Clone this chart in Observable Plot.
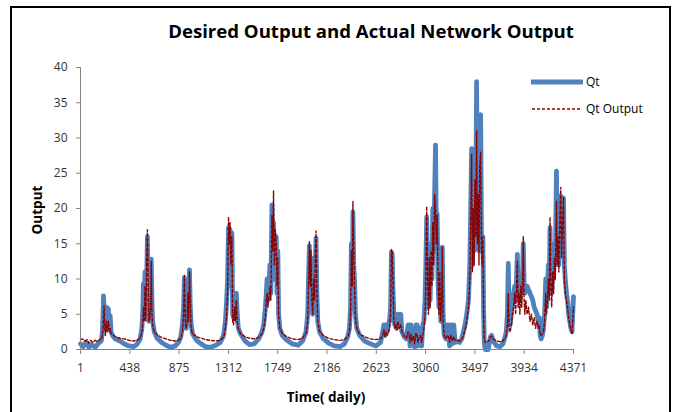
<!DOCTYPE html>
<html>
<head>
<meta charset="utf-8">
<script src="https://cdn.jsdelivr.net/npm/d3@7"></script>
<script src="https://cdn.jsdelivr.net/npm/@observablehq/plot@0.6"></script>
<style>
  html, body { margin: 0; padding: 0; background: #fff; overflow: hidden; }
  #wrap { position: relative; width: 679px; height: 412px; overflow: hidden; font-family: "Open Sans", sans-serif; }
  #frame { position: absolute; left: 10px; top: 6px; width: 661px; height: 430px; border: 2px solid #000; box-sizing: border-box; }
  #chart { position: absolute; left: 0; top: 0; }
  .title { position: absolute; left: 0; width: 742px; top: 18px; text-align: center; font-weight: bold; font-size: 18.6px; color: #000; white-space: nowrap; }
  .ylab { position: absolute; left: 37px; top: 210px; transform: translate(-50%, -50%) rotate(-90deg); font-weight: bold; font-size: 13.5px; white-space: nowrap; }
  .xlab { position: absolute; left: 326px; top: 397px; transform: translate(-50%, -50%); font-weight: bold; font-size: 13.5px; white-space: nowrap; }
  .leg { position: absolute; left: 531px; font-size: 12px; white-space: nowrap; display: flex; align-items: center; }
  .leg span { margin-left: 3px; }
</style>
</head>
<body>
<div id="wrap">
  <div id="chart"></div>
  <div id="frame"></div>
  <div class="title">Desired Output and Actual Network Output</div>
  <div class="ylab">Output</div>
  <div class="xlab">Time( daily)</div>
  <div class="leg" style="top:73px"><svg width="52" height="16"><line x1="1" x2="51" y1="8" y2="8" stroke="#4F81BD" stroke-width="5" stroke-linecap="round"/></svg><span>Qt</span></div>
  <div class="leg" style="top:100px"><svg width="52" height="16"><line x1="1" x2="51" y1="8" y2="8" stroke="#8B0000" stroke-width="1.4" stroke-dasharray="3,2"/></svg><span>Qt Output</span></div>
</div>
<script>
const xTicks = [1, 438, 875, 1312, 1749, 2186, 2623, 3060, 3497, 3934, 4371];
const yTicks = [0, 5, 10, 15, 20, 25, 30, 35, 40];

const qtSeries = [
[1,0.8],[25,0.4],[50,1.0],[75,0.3],[100,0.7],[130,0.3],[160,0.9],[185,1.2],[195,2.5],
[200,4.5],[205,7.6],[212,5],[218,3],[225,4.5],[232,6],[240,3.5],[248,5.8],[256,3],[264,4.8],[272,2.5],[285,2],[310,1.5],[350,1.2],[390,0.8],[430,0.5],[470,0.4],[500,0.7],[530,1.5],
[545,3],[552,5],[559,9.3],[566,6],[573,11],[580,5],[587,9],[594,16],[600,9],[607,4],[615,5],[622,8],[628,12.8],[634,7],[640,4],[655,2.5],[680,1.6],[720,1],[760,0.6],[800,0.3],[840,0.5],[870,1],[890,1.8],
[905,3.5],[915,6],[922,10.2],[930,5],[938,3],[946,5],[953,9],[960,4],[967,11.3],[974,6],[982,3.5],[995,2.2],[1030,1.3],[1070,0.8],[1110,0.4],[1150,0.3],[1200,0.6],[1240,1],[1270,2],
[1285,4],[1295,6.5],[1305,10],[1313,17.3],[1320,12],[1327,17],[1334,9],[1343,16.5],[1350,5],[1358,4.5],[1366,8],[1374,6],[1382,8],[1390,5],[1400,3],[1420,2.2],[1460,1.2],[1500,0.7],[1540,0.8],[1580,1.5],[1610,2.5],
[1625,3.5],[1640,6],[1648,8],[1655,10],[1663,7],[1672,9],[1680,12],[1688,8],[1698,20.5],[1705,12],[1712,18],[1720,10],[1728,14],[1736,16],[1743,8],[1750,14],[1757,5],[1768,3],[1790,2],[1830,1.3],[1880,0.8],[1930,0.6],[1970,1.2],[2000,2.5],
[2015,5],[2022,10],[2030,14.7],[2037,8],[2044,13],[2052,6],[2060,5],[2068,9],[2076,6],[2082,12],[2089,15.8],[2096,8],[2104,4],[2120,2.5],[2150,1.6],[2200,0.9],[2250,0.5],[2300,0.4],[2340,0.8],[2370,1.8],
[2385,3],[2395,6],[2402,15],[2410,8],[2416,19.5],[2423,12],[2430,9.8],[2438,5],[2450,3],[2475,2],[2520,1.2],[2570,0.8],[2620,0.5],[2660,1],[2680,2.5],[2690,3.5],[2700,2],[2710,3.5],[2720,2.5],[2730,3.5],[2740,4],
[2750,6],[2757,13.8],[2764,13.5],[2770,9],[2778,5],[2786,3.5],[2795,4],[2805,3],[2815,5],[2825,3.5],[2840,5],[2850,2.5],[2870,1.8],[2890,1.5],
[2905,3.5],[2915,3.5],[2922,0.5],[2930,3.5],[2940,1],[2955,2.5],[2962,0.3],[2975,3.5],[2985,3.5],[2992,0.5],[3005,2.5],[3015,3],[3025,0.5],[3035,3.5],[3045,4],
[3055,7],[3062,12],[3070,18.8],[3078,8],[3085,6],[3093,12],[3100,7],[3108,15],[3116,10],[3124,20],[3132,14],[3140,22],[3148,29],[3155,16],[3162,19.3],[3170,10],[3178,6],[3186,12],[3194,4],[3202,8],[3208,14.5],[3215,5],[3225,2],[3240,1.5],[3255,3.5],[3265,3.5],[3272,0.5],[3285,3.5],[3298,0.8],[3310,3.5],[3322,1],[3340,1.2],[3360,1],[3380,1.5],[3395,2.5],[3410,3.5],
[3425,5],[3440,7],[3452,12],[3460,20],[3468,28.5],[3475,12],[3482,22],[3490,14],[3497,26],[3505,20],[3512,38],[3519,18],[3526,25],[3533,14],[3540,28],[3548,33.3],[3555,16],[3562,14],[3568,16],[3574,6],[3580,1],[3588,0],[3615,0],[3625,1],[3635,1.8],[3645,2],[3660,1.2],[3690,0.5],[3720,0.4],[3745,0.8],[3765,1.8],
[3775,2.5],[3785,5],[3793,12.2],[3800,4],[3810,3.5],[3820,5],[3830,7],[3840,8],[3850,9],[3858,7],[3866,10],[3873,13.5],[3880,8],[3888,9.5],[3896,7],[3904,10],[3912,8],[3920,11],[3926,15],[3933,9],[3940,8],[3948,9],[3960,9],[3972,8.5],[3985,8],[3998,7.5],[4010,7],[4022,6],[4035,5.5],[4048,5],[4058,4],[4068,4.5],[4076,2],[4084,1.5],[4095,2],[4105,3],
[4115,5],[4125,10],[4132,6],[4140,8],[4148,12],[4156,9],[4163,17.3],[4170,10],[4178,8],[4186,13],[4194,10],[4202,15],[4210,12],[4220,25.3],[4227,14],[4234,18],[4241,12],[4250,20],[4258,21.8],[4265,14],[4272,18],[4282,21.5],[4290,12],[4298,10],[4308,8],[4318,7],[4328,5],[4338,4],[4348,3],[4358,2.5],[4364,5],[4371,7.5]
];

const qtOutputSeries = [
[1,1.4],[20,1.5],[40,1.2],[60,1.4],[75,0.9],[90,1.3],[110,1.0],[130,1.3],[150,1.1],[170,1.4],[190,1.5],[198,2.5],
[203,3.5],[210,6.2],[216,3],[222,2],[230,4],[238,2.5],[248,4],[256,2.5],[264,3],[272,2.3],[285,2.1],[310,1.8],[350,1.6],[390,1.5],[430,1.3],[470,1.2],[500,1.3],[530,1.6],
[545,2.5],[552,3.5],[559,6],[566,4],[573,9],[580,4],[587,12],[594,17],[600,11],[607,4],[615,4.5],[622,6],[628,12.5],[634,5],[640,3.5],[655,2.5],[680,2.1],[720,1.7],[760,1.5],[800,1.3],[840,1.2],[870,1.3],[890,1.6],
[905,2.5],[915,5],[922,10.5],[930,4],[938,3],[946,4],[953,8],[960,4],[967,11],[974,7],[982,3],[995,2.2],[1030,1.8],[1070,1.6],[1110,1.4],[1150,1.3],[1200,1.2],[1240,1.3],[1270,1.8],
[1285,3],[1295,4.5],[1305,8],[1313,18.8],[1320,15],[1327,18],[1334,12],[1343,16],[1350,4],[1358,3.5],[1366,6],[1374,4],[1382,7],[1390,4],[1400,3],[1420,2.2],[1460,1.8],[1500,1.6],[1540,1.5],[1580,1.7],[1610,2.2],
[1625,3],[1640,4.5],[1648,7],[1655,8],[1663,6],[1672,7.5],[1680,9],[1688,7],[1698,19],[1705,14],[1712,22.5],[1720,12],[1728,17],[1736,15],[1743,9],[1750,13],[1757,5],[1768,3],[1790,2.3],[1830,1.8],[1880,1.5],[1930,1.4],[1970,1.6],[2000,2.3],
[2015,4],[2022,9],[2030,15.3],[2037,9],[2044,14],[2052,7],[2060,5],[2068,10],[2076,7],[2082,13],[2089,16.8],[2096,9],[2104,4],[2120,2.6],[2150,2],[2200,1.6],[2250,1.4],[2300,1.3],[2340,1.4],[2370,1.8],
[2385,2.5],[2395,5],[2402,14],[2410,9],[2416,21],[2423,14],[2430,9],[2438,4.5],[2450,3],[2475,2.2],[2520,1.8],[2570,1.5],[2620,1.4],[2660,1.5],[2680,2],[2690,2.8],[2700,1.8],[2710,2.5],[2720,2],[2730,2.5],[2740,3],
[2750,5],[2757,14.2],[2764,13.8],[2770,10],[2778,4.5],[2786,3],[2795,3.5],[2805,2.8],[2815,4],[2825,3],[2840,3.5],[2850,2.5],[2870,1.9],[2890,1.6],
[2905,2.5],[2915,2],[2922,1],[2930,2.2],[2940,1.2],[2955,2],[2962,0.8],[2975,2.3],[2985,2],[2992,1],[3005,1.8],[3015,2],[3025,1],[3035,2],[3045,3],
[3055,5],[3062,9],[3070,20.3],[3078,10],[3085,5],[3093,13],[3100,6],[3108,14],[3116,9],[3124,18],[3132,12],[3140,22],[3148,20],[3155,15],[3162,19],[3170,11],[3178,5],[3186,11],[3194,4],[3202,7],[3208,14.5],[3215,4],[3225,2],[3240,1.5],[3255,2],[3265,1.8],[3272,1],[3285,2],[3298,1.2],[3310,1.8],[3322,1.3],[3340,1.3],[3360,1.2],[3380,1.4],[3395,2],[3410,2.8],
[3425,4],[3440,6],[3452,10],[3460,18],[3468,27.7],[3475,11],[3482,20],[3490,12],[3497,24],[3505,16],[3512,31],[3519,15],[3526,22],[3533,12],[3540,26],[3548,28],[3555,14],[3562,12],[3568,16],[3574,5],[3580,1.5],[3588,1],[3615,1.2],[3625,1.3],[3635,1.8],[3645,1.9],[3660,1.5],[3690,1.2],[3720,1.1],[3745,1.2],[3765,1.6],
[3775,2],[3785,3.5],[3793,8],[3800,3],[3810,2.5],[3820,3.5],[3830,5],[3840,6],[3850,8],[3858,5],[3866,9],[3873,12.5],[3880,6],[3888,8],[3896,5],[3904,9],[3912,6],[3920,10],[3926,16],[3933,7],[3940,5],[3948,7],[3960,5],[3972,6],[3985,4],[3998,5],[4010,3.5],[4022,4.5],[4035,3],[4048,4],[4058,3],[4068,3.5],[4076,2],[4084,2],[4095,2.2],[4105,2.5],
[4115,4],[4125,8],[4132,5],[4140,7],[4148,10],[4156,7],[4163,18.8],[4170,9],[4178,6],[4186,11],[4194,8],[4202,13],[4210,10],[4220,21],[4227,12],[4234,16],[4241,11],[4250,18],[4258,23],[4265,13],[4272,17],[4282,21.5],[4290,10],[4298,8],[4308,7],[4318,6],[4328,4.5],[4338,3.5],[4348,2.8],[4358,2.2],[4364,4],[4371,6]
];

const qtData = qtSeries.map(([day, value]) => ({day, value}));
const outData = qtOutputSeries.map(([day, value]) => ({day, value}));

const chart = Plot.plot({
  width: 679,
  height: 412,
  marginLeft: 80,
  marginRight: 106,
  marginTop: 67,
  marginBottom: 63,
  style: {fontFamily: "Open Sans, sans-serif", fontSize: "12px", color: "#333", background: "transparent", overflow: "visible"},
  x: {domain: [1, 4371]},
  y: {domain: [0, 40]},
  marks: [
    Plot.axisX({ticks: xTicks, tickSize: 5, tickPadding: 9, tickFormat: d => String(d), label: null, stroke: "#868686", fill: "#333"}),
    Plot.axisY({ticks: yTicks, tickSize: 4, tickPadding: 9, tickFormat: d => String(d), label: null, stroke: "#868686", fill: "#333"}),
    Plot.line(qtData, {x: "day", y: "value", stroke: "#4F81BD", strokeWidth: 4.8, strokeLinejoin: "round", strokeLinecap: "round"}),
    Plot.line(outData, {x: "day", y: "value", stroke: "#8B0000", strokeWidth: 1.4, strokeDasharray: "3,2"}),
    Plot.ruleY([0], {stroke: "#868686", strokeWidth: 1}),
    Plot.ruleX([1], {stroke: "#868686", strokeWidth: 1})
  ]
});
document.getElementById("chart").appendChild(chart);
</script>
</body>
</html>
